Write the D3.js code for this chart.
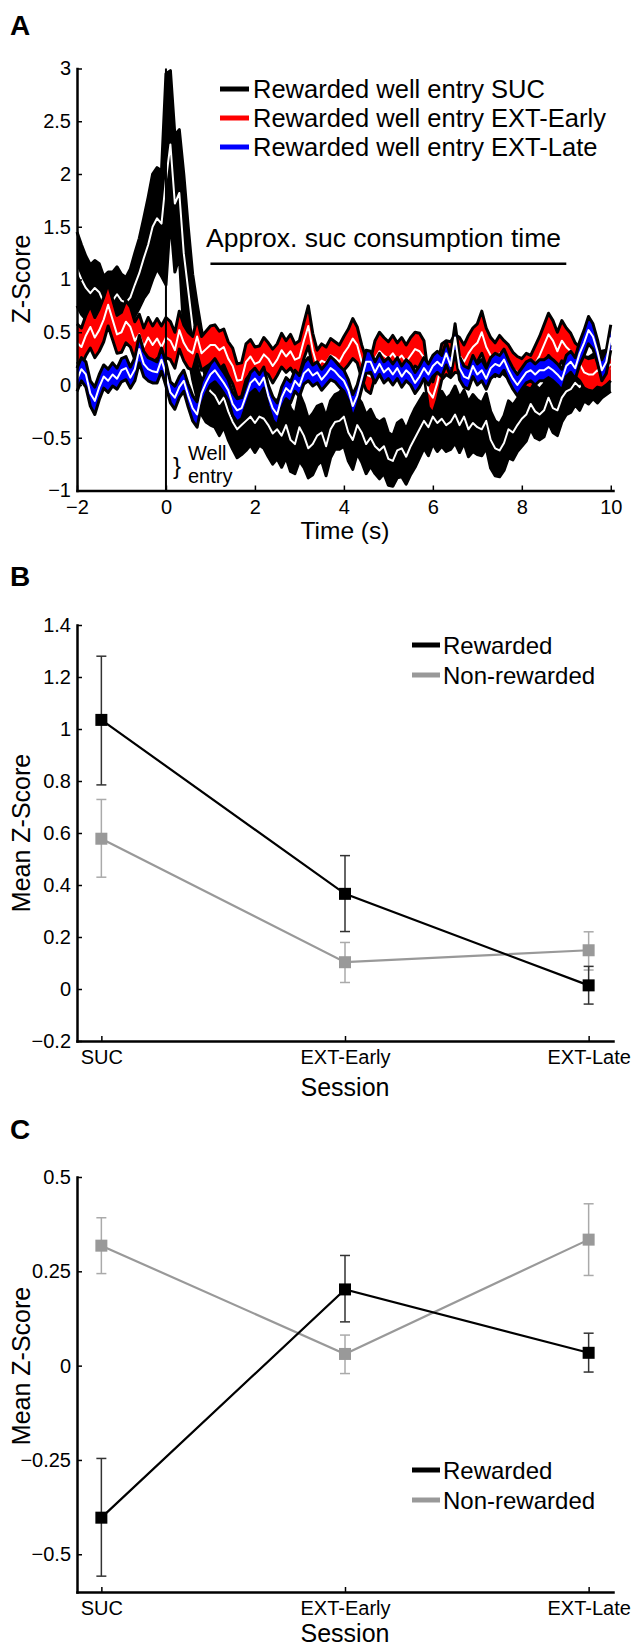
<!DOCTYPE html>
<html>
<head>
<meta charset="utf-8">
<script src="https://cdn.jsdelivr.net/npm/d3@7"></script>
<style>
  body { margin: 0; background: #fff; }
  svg { display: block; font-family: "Liberation Sans", Arial, Helvetica, sans-serif; }
</style>
</head>
<body>
<svg id="fig"></svg>
<script>
// ---- panel A: photometry traces, sampled every 0.1 s from -2 s to 10 s ----
const tStart = -2, tStep = 0.1;

const sucMean = [
  1.10, 1.00, 0.92, 0.87, 0.92, 0.88, 0.78, 0.83, 0.80, 0.86,
  0.80, 0.78, 0.83, 0.95, 1.06, 1.20, 1.33, 1.50, 1.58, 1.53,
  1.95, 2.28, 1.72, 1.82, 1.25, 0.90, 0.55, 0.32, 0.12, 0.00,
  -0.06, -0.10, -0.18, -0.12, -0.25, -0.35, -0.42, -0.38, -0.34, -0.30,
  -0.36, -0.30, -0.32, -0.38, -0.46, -0.42, -0.48, -0.38, -0.52, -0.56,
  -0.40, -0.48, -0.60, -0.56, -0.48, -0.45, -0.58, -0.42, -0.35, -0.34,
  -0.30, -0.45, -0.52, -0.38, -0.45, -0.56, -0.50, -0.58, -0.62, -0.58,
  -0.70, -0.72, -0.62, -0.60, -0.68, -0.58, -0.50, -0.42, -0.34, -0.40,
  -0.30, -0.36, -0.32, -0.38, -0.35, -0.28, -0.38, -0.30, -0.42, -0.36,
  -0.40, -0.42, -0.34, -0.52, -0.60, -0.62, -0.55, -0.42, -0.45, -0.38,
  -0.32, -0.28, -0.18, -0.25, -0.28, -0.24, -0.12, -0.22, -0.24, -0.12,
  -0.06, -0.04, 0.02, -0.02, 0.06, 0.04, 0.08, 0.05, 0.10, 0.12,
  0.16
];
const sucSem = [
  0.35, 0.33, 0.30, 0.27, 0.26, 0.27, 0.25, 0.24, 0.27, 0.26,
  0.25, 0.24, 0.27, 0.30, 0.33, 0.38, 0.45, 0.50, 0.48, 0.50,
  1.00, 0.70, 0.65, 0.60, 0.75, 0.60, 0.50, 0.45, 0.40, 0.35,
  0.32, 0.30, 0.30, 0.28, 0.27, 0.26, 0.27, 0.28, 0.28, 0.27,
  0.28, 0.27, 0.28, 0.30, 0.29, 0.28, 0.30, 0.31, 0.30, 0.28,
  0.32, 0.30, 0.28, 0.29, 0.28, 0.27, 0.28, 0.27, 0.26, 0.27,
  0.28, 0.27, 0.28, 0.27, 0.28, 0.28, 0.27, 0.26, 0.27, 0.26,
  0.25, 0.24, 0.26, 0.27, 0.26, 0.27, 0.28, 0.27, 0.26, 0.27,
  0.26, 0.27, 0.26, 0.25, 0.26, 0.27, 0.26, 0.25, 0.26, 0.27,
  0.26, 0.25, 0.26, 0.27, 0.26, 0.25, 0.26, 0.27, 0.26, 0.25,
  0.26, 0.25, 0.24, 0.25, 0.24, 0.25, 0.24, 0.23, 0.24, 0.23,
  0.22, 0.22, 0.21, 0.22, 0.21, 0.22, 0.21, 0.22, 0.22, 0.21,
  0.22
];
const earlyMean = [
  0.40, 0.36, 0.47, 0.55, 0.45, 0.52, 0.62, 0.76, 0.62, 0.48,
  0.50, 0.60, 0.55, 0.42, 0.48, 0.36, 0.45, 0.38, 0.44, 0.36,
  0.45, 0.42, 0.33, 0.52, 0.40, 0.33, 0.30, 0.46, 0.30, 0.34,
  0.38, 0.38, 0.33, 0.36, 0.25, 0.18, 0.04, 0.05, 0.22, 0.27,
  0.20, 0.22, 0.29, 0.25, 0.18, 0.24, 0.33, 0.27, 0.32, 0.24,
  0.26, 0.42, 0.56, 0.33, 0.18, 0.23, 0.21, 0.28, 0.26, 0.22,
  0.30, 0.36, 0.44, 0.38, 0.22, 0.10, 0.08, 0.25, 0.32, 0.28,
  0.25, 0.30, 0.24, 0.28, 0.22, 0.28, 0.34, 0.32, 0.26, -0.06,
  -0.12, 0.02, 0.22, 0.26, 0.24, 0.30, 0.28, 0.22, 0.30, 0.36,
  0.40, 0.50, 0.36, 0.28, 0.24, 0.30, 0.26, 0.22, 0.16, 0.12,
  0.10, 0.14, 0.12, 0.20, 0.28, 0.38, 0.48, 0.42, 0.32, 0.42,
  0.36, 0.32, 0.24, 0.20, 0.12, 0.10, 0.10, 0.14, 0.12, 0.16,
  0.20
];
const earlySem = [
  0.18, 0.18, 0.19, 0.20, 0.19, 0.20, 0.21, 0.20, 0.19, 0.18,
  0.19, 0.20, 0.19, 0.18, 0.19, 0.18, 0.19, 0.18, 0.19, 0.20,
  0.19, 0.18, 0.17, 0.18, 0.17, 0.17, 0.16, 0.17, 0.16, 0.17,
  0.18, 0.19, 0.18, 0.17, 0.16, 0.17, 0.16, 0.16, 0.17, 0.16,
  0.16, 0.15, 0.16, 0.15, 0.16, 0.15, 0.16, 0.15, 0.16, 0.15,
  0.16, 0.17, 0.19, 0.16, 0.15, 0.16, 0.15, 0.16, 0.15, 0.16,
  0.16, 0.17, 0.19, 0.17, 0.16, 0.15, 0.16, 0.17, 0.18, 0.17,
  0.16, 0.17, 0.16, 0.17, 0.16, 0.17, 0.16, 0.17, 0.16, 0.15,
  0.15, 0.16, 0.17, 0.16, 0.17, 0.18, 0.17, 0.16, 0.17, 0.18,
  0.18, 0.20, 0.18, 0.17, 0.16, 0.17, 0.16, 0.16, 0.15, 0.15,
  0.15, 0.16, 0.16, 0.17, 0.18, 0.19, 0.20, 0.19, 0.18, 0.19,
  0.18, 0.17, 0.16, 0.16, 0.15, 0.15, 0.16, 0.16, 0.15, 0.16,
  0.16
];
const lateMean = [
  0.05, 0.15, 0.10, -0.08, -0.15, -0.02, 0.08, 0.04, 0.10, 0.06,
  0.14, 0.16, 0.07, 0.15, 0.34, 0.20, 0.15, 0.13, 0.12, 0.24,
  0.10, -0.07, -0.12, -0.02, 0.04, -0.10, -0.22, -0.28, -0.08, 0.02,
  0.10, 0.14, 0.08, 0.02, -0.05, -0.18, -0.24, -0.22, -0.10, 0.02,
  0.06, 0.00, 0.07, -0.10, -0.22, -0.28, -0.12, -0.03, -0.07, 0.04,
  -0.01, 0.11, 0.15, 0.09, 0.12, 0.05, 0.10, 0.16, 0.13, 0.08,
  0.04, -0.05, -0.20, -0.10, 0.06, 0.22, 0.22, 0.12, 0.20, 0.12,
  0.16, 0.10, 0.16, 0.08, 0.14, 0.10, 0.02, 0.08, 0.16, 0.10,
  0.18, 0.22, 0.18, 0.30, 0.18, 0.45, 0.16, 0.08, 0.06, 0.18,
  0.10, 0.14, 0.06, 0.16, 0.20, 0.18, 0.24, 0.14, 0.06, 0.00,
  0.06, 0.12, 0.14, 0.10, 0.14, 0.14, 0.17, 0.14, 0.10, 0.05,
  0.18, 0.22, 0.16, 0.30, 0.40, 0.52, 0.46, 0.32, 0.14, 0.22,
  0.45
];
const lateSem = [
  0.11, 0.11, 0.12, 0.12, 0.13, 0.12, 0.11, 0.11, 0.11, 0.10,
  0.11, 0.11, 0.10, 0.11, 0.13, 0.12, 0.11, 0.11, 0.10, 0.11,
  0.11, 0.10, 0.11, 0.10, 0.10, 0.11, 0.12, 0.12, 0.11, 0.10,
  0.10, 0.11, 0.10, 0.10, 0.10, 0.11, 0.11, 0.10, 0.10, 0.10,
  0.10, 0.10, 0.10, 0.10, 0.11, 0.11, 0.10, 0.10, 0.10, 0.10,
  0.10, 0.10, 0.11, 0.10, 0.10, 0.10, 0.10, 0.11, 0.10, 0.10,
  0.10, 0.10, 0.11, 0.10, 0.10, 0.11, 0.10, 0.10, 0.10, 0.10,
  0.10, 0.10, 0.10, 0.10, 0.10, 0.10, 0.10, 0.10, 0.10, 0.10,
  0.10, 0.10, 0.10, 0.11, 0.10, 0.13, 0.11, 0.10, 0.10, 0.10,
  0.10, 0.10, 0.10, 0.10, 0.10, 0.10, 0.10, 0.10, 0.10, 0.10,
  0.10, 0.10, 0.10, 0.10, 0.10, 0.10, 0.10, 0.10, 0.10, 0.10,
  0.10, 0.10, 0.10, 0.11, 0.12, 0.13, 0.12, 0.11, 0.10, 0.11,
  0.12
];
const legendA = ["Rewarded well entry SUC", "Rewarded well entry EXT-Early", "Rewarded well entry EXT-Late"];
const xTicksA = [-2, 0, 2, 4, 6, 8, 10];
const yTicksA = [-1, -0.5, 0, 0.5, 1, 1.5, 2, 2.5, 3];

// ---- panels B and C: session means with error bars ----
const sessions = ["SUC", "EXT-Early", "EXT-Late"];
const bRewMean = [1.035, 0.366, 0.014];
const bRewLo = [0.785, 0.221, -0.058];
const bRewHi = [1.28, 0.513, 0.087];
const bNonMean = [0.578, 0.103, 0.149];
const bNonLo = [0.43, 0.025, 0.073];
const bNonHi = [0.729, 0.179, 0.22];
const yTicksB = [-0.2, 0, 0.2, 0.4, 0.6, 0.8, 1, 1.2, 1.4];

const cRewMean = [-0.403, 0.202, 0.034];
const cRewLo = [-0.558, 0.116, -0.017];
const cRewHi = [-0.246, 0.292, 0.086];
const cNonMean = [0.318, 0.031, 0.334];
const cNonLo = [0.244, -0.021, 0.239];
const cNonHi = [0.392, 0.081, 0.429];
const yTicksC = [-0.5, -0.25, 0, 0.25, 0.5];

const groupNames = ["Rewarded", "Non-rewarded"];

const FONT = '"Liberation Sans", Arial, Helvetica, sans-serif';
const fmt = d => String(d).replace("-", "\u2212");

const svg = d3.select("#fig").attr("width", 633).attr("height", 1650);
svg.append("rect").attr("width", 633).attr("height", 1650).attr("fill", "#fff");

function styleAxis(g) {
  g.attr("font-family", FONT).attr("font-size", 20);
  g.select(".domain").attr("stroke", "#000").attr("stroke-width", 2.5).attr("stroke-linecap", "square");
  g.selectAll(".tick line").attr("stroke", "#000").attr("stroke-width", 1.5);
  g.selectAll(".tick text").attr("fill", "#000");
}

function panelLabel(txt, y) {
  svg.append("text").attr("x", 10).attr("y", y).attr("font-size", 28)
    .attr("font-weight", "bold").text(txt);
}

function yTitle(txt, cy) {
  svg.append("text").attr("transform", `translate(30,${cy}) rotate(-90)`)
    .attr("text-anchor", "middle").attr("font-size", 25).text(txt);
}

// ================= Panel A =================
panelLabel("A", 35);
const xA = d3.scaleLinear().domain([-2, 10.05]).range([77, 613]);
const yA = d3.scaleLinear().domain([-1, 3]).range([490.5, 68.5]);
const times = sucMean.map((_, i) => +(tStart + i * tStep).toFixed(1));
const gA = svg.append("g");

function band(mean, sem, fill) {
  const pts = mean.map((m, i) => ({ t: times[i], m: m, s: sem[i] }));
  const area = d3.area().x(d => xA(d.t)).y0(d => yA(d.m - d.s)).y1(d => yA(d.m + d.s));
  gA.append("path").datum(pts).attr("d", area).attr("fill", fill);
  [1, -1].forEach(k => {
    const edge = d3.line().x(d => xA(d.t)).y(d => yA(d.m + k * d.s));
    gA.append("path").datum(pts).attr("d", edge).attr("fill", "none")
      .attr("stroke", "#000").attr("stroke-width", 3).attr("stroke-linejoin", "round");
  });
  const mid = d3.line().x(d => xA(d.t)).y(d => yA(d.m));
  gA.append("path").datum(pts).attr("d", mid).attr("fill", "none")
    .attr("stroke", "#fff").attr("stroke-width", 2).attr("stroke-linejoin", "round");
}

band(sucMean, sucSem, "#000");
band(earlyMean, earlySem, "#ff0000");
band(lateMean, lateSem, "#0000ff");

// well entry marker
gA.append("line").attr("x1", xA(0)).attr("x2", xA(0)).attr("y1", yA(-1)).attr("y2", yA(3))
  .attr("stroke", "#000").attr("stroke-width", 2);
svg.append("text").attr("x", 173).attr("y", 474).attr("font-size", 24).text("}");
svg.append("text").attr("x", 188).attr("y", 460).attr("font-size", 20).text("Well");
svg.append("text").attr("x", 188).attr("y", 483).attr("font-size", 20).text("entry");

// consumption bar
svg.append("line").attr("x1", xA(1)).attr("x2", xA(9)).attr("y1", yA(1.15)).attr("y2", yA(1.15))
  .attr("stroke", "#000").attr("stroke-width", 2.5);
svg.append("text").attr("x", 206).attr("y", 247).attr("font-size", 26.5).text("Approx. suc consumption time");

// legend A
const legColors = ["#000", "#ff0000", "#0000ff"];
legendA.forEach((name, i) => {
  const y = 89 + i * 29;
  svg.append("line").attr("x1", 220).attr("x2", 249).attr("y1", y).attr("y2", y)
    .attr("stroke", legColors[i]).attr("stroke-width", 5);
  svg.append("text").attr("x", 253).attr("y", y + 9).attr("font-size", 25.5).text(name);
});

svg.append("g").attr("transform", `translate(0,${yA(-1)})`)
  .call(d3.axisBottom(xA).tickValues(xTicksA).tickFormat(fmt).tickSizeInner(-5).tickSizeOuter(0).tickPadding(9))
  .call(styleAxis);
svg.append("g").attr("transform", `translate(${xA(-2)},0)`)
  .call(d3.axisLeft(yA).tickValues(yTicksA).tickFormat(fmt).tickSizeInner(-5).tickSizeOuter(0).tickPadding(6))
  .call(styleAxis);
yTitle("Z-Score", 279);
svg.append("text").attr("x", 345).attr("y", 539).attr("text-anchor", "middle")
  .attr("font-size", 24.5).text("Time (s)");

// ================= Panels B and C =================
function sessionPanel(opts) {
  const x = d3.scalePoint().domain(sessions).range([77, 613]).padding(0.1);
  const y = d3.scaleLinear().domain(opts.domain).range(opts.range);
  const g = svg.append("g");
  const groups = [
    { mean: opts.nonMean, lo: opts.nonLo, hi: opts.nonHi, col: "#999", err: "#aaa" },
    { mean: opts.rewMean, lo: opts.rewLo, hi: opts.rewHi, col: "#000", err: "#333" }
  ];
  groups.forEach(s => {
    const pts = sessions.map((c, i) => ({ c: c, m: s.mean[i], lo: s.lo[i], hi: s.hi[i] }));
    g.append("path").datum(pts)
      .attr("d", d3.line().x(d => x(d.c)).y(d => y(d.m)))
      .attr("fill", "none").attr("stroke", s.col).attr("stroke-width", 2.2);
    const eb = g.selectAll(null).data(pts).enter().append("g").attr("stroke", s.err).attr("stroke-width", 1.5);
    eb.append("line").attr("x1", d => x(d.c)).attr("x2", d => x(d.c)).attr("y1", d => y(d.lo)).attr("y2", d => y(d.hi));
    eb.append("line").attr("x1", d => x(d.c) - 5).attr("x2", d => x(d.c) + 5).attr("y1", d => y(d.lo)).attr("y2", d => y(d.lo));
    eb.append("line").attr("x1", d => x(d.c) - 5).attr("x2", d => x(d.c) + 5).attr("y1", d => y(d.hi)).attr("y2", d => y(d.hi));
    g.selectAll(null).data(pts).enter().append("rect")
      .attr("x", d => x(d.c) - 6).attr("y", d => y(d.m) - 6).attr("width", 12).attr("height", 12)
      .attr("fill", s.col);
  });

  svg.append("g").attr("transform", `translate(0,${opts.range[0]})`)
    .call(d3.axisBottom(x).tickSizeInner(-5).tickSizeOuter(0).tickPadding(9))
    .call(styleAxis);
  svg.append("g").attr("transform", "translate(77,0)")
    .call(d3.axisLeft(y).tickValues(opts.ticks).tickFormat(fmt).tickSizeInner(-5).tickSizeOuter(0).tickPadding(6))
    .call(styleAxis);

  ["#000", "#999"].forEach((col, i) => {
    const ly = opts.legendY + i * 30;
    svg.append("line").attr("x1", 412).attr("x2", 440).attr("y1", ly).attr("y2", ly)
      .attr("stroke", col).attr("stroke-width", 5);
    svg.append("text").attr("x", 443).attr("y", ly + 9).attr("font-size", 24).text(groupNames[i]);
  });
  yTitle("Mean Z-Score", opts.titleY);
  svg.append("text").attr("x", 345).attr("y", opts.sessionY).attr("text-anchor", "middle")
    .attr("font-size", 25).text("Session");
}

panelLabel("B", 586);
sessionPanel({
  domain: [-0.2, 1.4], range: [1041, 625], ticks: yTicksB,
  rewMean: bRewMean, rewLo: bRewLo, rewHi: bRewHi,
  nonMean: bNonMean, nonLo: bNonLo, nonHi: bNonHi,
  legendY: 645, titleY: 833, sessionY: 1096
});

panelLabel("C", 1139);
sessionPanel({
  domain: [-0.6, 0.5], range: [1592, 1177], ticks: yTicksC,
  rewMean: cRewMean, rewLo: cRewLo, rewHi: cRewHi,
  nonMean: cNonMean, nonLo: cNonLo, nonHi: cNonHi,
  legendY: 1470, titleY: 1366, sessionY: 1642
});
</script>
</body>
</html>
